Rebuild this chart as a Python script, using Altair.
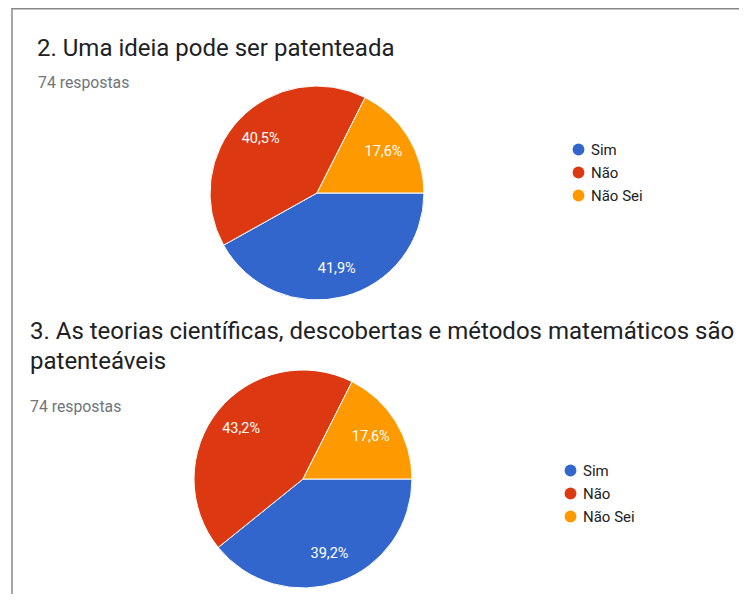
import math
import altair as alt
import pandas as pd

categories = ["Sim", "Não", "Não Sei"]
colors = ["#3366CC", "#DC3912", "#FF9900"]
q2_counts = [31, 30, 13]
q3_counts = [29, 32, 13]
q2_labels = ["41,9%", "40,5%", "17,6%"]
q3_labels = ["39,2%", "43,2%", "17,6%"]
q2_title = ["2. Uma ideia pode ser patenteada"]
q3_title = ["3. As teorias científicas, descobertas e métodos matemáticos são", "patenteáveis"]
subtitle = "74 respostas"

rows = []
for q, counts, labels in [(2, q2_counts, q2_labels), (3, q3_counts, q3_labels)]:
    for i, (c, n, l) in enumerate(zip(categories, counts, labels)):
        rows.append({"q": q, "cat": c, "count": n, "label": l, "order": i})
df = pd.DataFrame(rows)

texts = pd.DataFrame([
    {"t": q2_title[0], "x": 29, "y": 41, "kind": "title"},
    {"t": subtitle, "x": 30, "y": 75, "kind": "sub"},
    {"t": q3_title[0], "x": 22, "y": 324, "kind": "title"},
    {"t": q3_title[1], "x": 22, "y": 354, "kind": "title"},
    {"t": subtitle, "x": 22, "y": 399, "kind": "sub"},
])

W, H = 731, 586
theta_scale = alt.Scale(range=[math.pi / 2, math.pi / 2 + 2 * math.pi])


def pie(q, cx, cy, r, lx, ly):
    base = alt.Chart(df).transform_filter(alt.datum.q == q).encode(
        theta=alt.Theta("count:Q", stack=True, scale=theta_scale),
        order=alt.Order("order:Q"),
    )
    arc = base.mark_arc(x=cx, y=cy, outerRadius=r, stroke="white", strokeWidth=1).encode(
        color=alt.Color(
            "cat:N",
            sort=categories,
            scale=alt.Scale(domain=categories, range=colors),
            legend=alt.Legend(
                orient="none", legendX=lx, legendY=ly, title=None,
                symbolType="circle", symbolSize=140, symbolStrokeWidth=0,
                labelFont="Roboto", labelFontSize=15, labelColor="#222222",
                rowPadding=7, labelOffset=5,
            ),
        )
    )
    text = base.mark_text(x=cx, y=cy, radius=r * 0.73, fill="white",
                          font="Roboto", fontSize=14.5).encode(text="label:N")
    return arc, text


a1, t1 = pie(2, 309, 185, 107, 563, 134)
a2, t2 = pie(3, 295, 471, 109, 555, 455)

frame = pd.DataFrame({"v": [0]})
cover = alt.Chart(frame).mark_rect(fill="white", strokeWidth=0).encode(
    x=alt.value(W - 4), x2=alt.value(W + 4), y=alt.value(2), y2=alt.value(H + 4)
)
top_rule = alt.Chart(frame).mark_rule(color="#888888", strokeWidth=2).encode(
    x=alt.value(3.5), x2=alt.value(W), y=alt.value(0.5)
)
left_rule = alt.Chart(frame).mark_rule(color="#888888", strokeWidth=1.5).encode(
    x=alt.value(4), y=alt.value(0), y2=alt.value(H)
)

title_layer = alt.Chart(texts).transform_filter(alt.datum.kind == "title").mark_text(
    align="left", baseline="middle", font="Roboto", fontSize=24, color="#202124"
).encode(x=alt.X("x:Q", scale=None), y=alt.Y("y:Q", scale=None), text="t:N")

sub_layer = alt.Chart(texts).transform_filter(alt.datum.kind == "sub").mark_text(
    align="left", baseline="middle", font="Roboto", fontSize=15.8, color="#70757a"
).encode(x=alt.X("x:Q", scale=None), y=alt.Y("y:Q", scale=None), text="t:N")

chart = alt.layer(top_rule, left_rule, title_layer, sub_layer, a1, t1, a2, t2, cover).resolve_scale(
    color="independent"
).properties(
    width=W, height=H, autosize="none", padding=0
).configure_view(stroke="transparent", strokeWidth=0)

chart.save("out.html", embed_options={"renderer": "svg", "actions": False})
